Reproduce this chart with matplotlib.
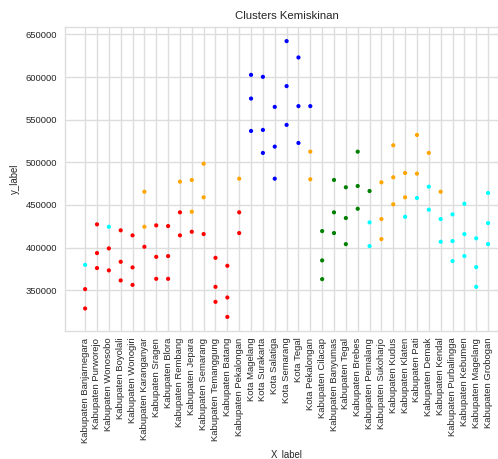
import matplotlib
matplotlib.use("Agg")
import matplotlib.pyplot as plt

# Kabupaten / kota di Jawa Tengah
kabupaten = [
    "Kabupaten Banjarnegara", "Kabupaten Purworejo", "Kabupaten Wonosobo",
    "Kabupaten Boyolali", "Kabupaten Wonogiri", "Kabupaten Karanganyar",
    "Kabupaten Sragen", "Kabupaten Blora", "Kabupaten Rembang",
    "Kabupaten Jepara", "Kabupaten Semarang", "Kabupaten Temanggung",
    "Kabupaten Batang", "Kabupaten Pekalongan", "Kota Magelang",
    "Kota Surakarta", "Kota Salatiga", "Kota Semarang", "Kota Tegal",
    "Kota Pekalongan", "Kabupaten Cilacap", "Kabupaten Banyumas",
    "Kabupaten Tegal", "Kabupaten Brebes", "Kabupaten Pemalang",
    "Kabupaten Sukoharjo", "Kabupaten Kudus", "Kabupaten Klaten",
    "Kabupaten Pati", "Kabupaten Demak", "Kabupaten Kendal",
    "Kabupaten Purbalingga", "Kabupaten Kebumen", "Kabupaten Magelang",
    "Kabupaten Grobogan",
]

# three measurements per region
kemiskinan_1 = [
    379700, 427200, 424400, 420200, 414300, 465500, 426000, 425200, 477300,
    479300, 498400, 387900, 378600, 480800, 602600, 600300, 565000, 642200,
    623000, 565900, 419300, 479300, 470700, 512500, 466300, 476500, 520000,
    487500, 532100, 511000, 465500, 438900, 451400, 410800, 464000,
]
kemiskinan_2 = [
    351200, 393500, 399000, 383300, 376700, 424400, 389100, 390000, 441300,
    442000, 458900, 353900, 341400, 441300, 574800, 538000, 518400, 589400,
    565900, 512500, 384900, 441300, 434600, 472200, 429500, 433400, 482400,
    458900, 486700, 471400, 433400, 407600, 415800, 377000, 428700,
]
kemiskinan_3 = [
    328500, 375900, 373200, 361400, 356200, 400900, 363300, 363300, 414300,
    418500, 415800, 336300, 318600, 417000, 536800, 511000, 480800, 543900,
    522700, 480100, 362900, 417000, 404000, 445500, 401700, 409900, 450700,
    436100, 458100, 444400, 406800, 384100, 390000, 353900, 404000,
]

# cluster label for each point
cluster_1 = [
    4, 0, 4, 0, 0, 1, 0, 0, 1, 1, 1, 0, 0, 1, 2, 2, 2, 2, 2, 2, 3, 3, 3, 3,
    3, 1, 1, 1, 1, 1, 1, 4, 4, 4, 4,
]
cluster_2 = [
    0, 0, 0, 0, 0, 1, 0, 0, 0, 1, 1, 0, 0, 0, 2, 2, 2, 2, 2, 1, 3, 3, 3, 3,
    4, 1, 1, 1, 1, 4, 4, 4, 4, 4, 4,
]
cluster_3 = [
    0, 0, 0, 0, 0, 0, 0, 0, 0, 0, 0, 0, 0, 0, 2, 2, 2, 2, 2, 1, 3, 3, 3, 3,
    4, 1, 1, 4, 4, 4, 4, 4, 4, 4, 4,
]

cluster_colors = ["red", "orange", "blue", "green", "cyan"]

plt.rcParams["font.family"] = ["Liberation Sans", "DejaVu Sans"]
plt.rcParams["text.color"] = "#262626"
plt.rcParams["axes.labelcolor"] = "#262626"

fig = plt.figure(figsize=(4.98, 4.59), dpi=100)
ax = fig.add_axes([0.1305, 0.2795, 0.890, 0.661])

for values, labels in [(kemiskinan_1, cluster_1),
                       (kemiskinan_2, cluster_2),
                       (kemiskinan_3, cluster_3)]:
    ax.scatter(kabupaten, values, c=[cluster_colors[k] for k in labels],
               s=9, linewidths=0, zorder=3)

ax.set_title("Clusters Kemiskinan", fontsize=8.2)
ax.set_xlabel("X_label", fontsize=6.9, labelpad=5)
ax.set_ylabel("y_label", fontsize=6.9, labelpad=4)

ax.grid(True, color="#dddddd", linewidth=1.0)
ax.set_axisbelow(True)
for spine in ax.spines.values():
    spine.set_color("#dddddd")
    spine.set_linewidth(1.0)
ax.tick_params(axis="both", length=0, pad=5.5, labelsize=6.8,
               labelcolor="#262626")
ax.tick_params(axis="x", labelrotation=90, pad=5)

fig.savefig("out.png", dpi=100)
